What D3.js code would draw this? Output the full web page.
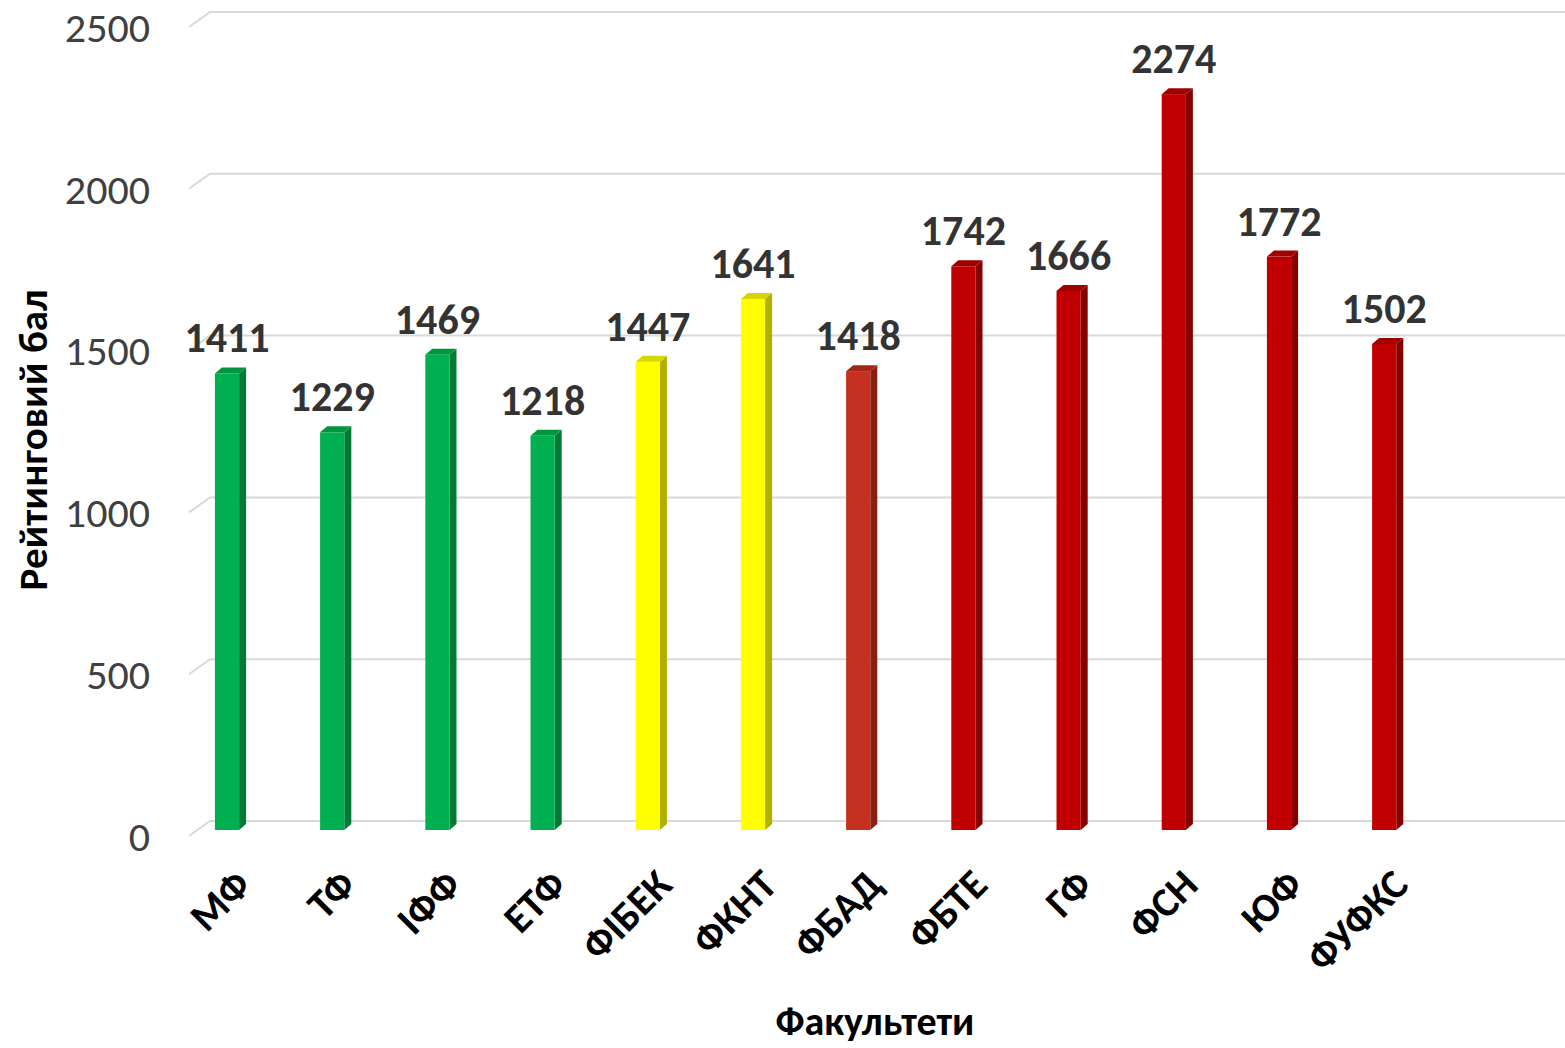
<!DOCTYPE html>
<html><head><meta charset="utf-8">
<script src="https://cdn.jsdelivr.net/npm/d3@7"></script>
<style>
html,body{margin:0;padding:0;background:#fff;}
svg{display:block;font-family:Carlito, Calibri, Lato, sans-serif;}
</style></head>
<body>
<svg id="c" width="1565" height="1048"></svg>
<script>
const categories = ["МФ","ТФ","ІФФ","ЕТФ","ФІБЕК","ФКНТ","ФБАД","ФБТЕ","ГФ","ФСН","ЮФ","ФУФКС"];
const values = [1411,1229,1469,1218,1447,1641,1418,1742,1666,2274,1772,1502];
const colorGroups = ["green","green","green","green","yellow","yellow","brick","red","red","red","red","red"];
const yTicks = [0,500,1000,1500,2000,2500];
const yTitle = "Рейтинговий бал";
const xTitle = "Факультети";

const palette = {
  green: {front:"#00b050", top:"#00963f", side:"#007a35"},
  yellow:{front:"#ffff00", top:"#d6d600", side:"#b0b000"},
  brick: {front:"#c5301f", top:"#a32617", side:"#8a1f14"},
  red:   {front:"#c00000", top:"#a00000", side:"#860000"}
};

const svg = d3.select("#c");
const y = d3.scaleLinear().domain([0,2500]).range([821,12]);
const x = d3.scaleBand().domain(categories).range([174.4,1436.8]).paddingInner(0.77).paddingOuter(0.385);

const floorDx = -21, floorDy = 15;
const barDy = 9;
const depthX = 7, depthY = 6;

const g = svg.append("g");
yTicks.forEach(t => {
  const yb = y(t);
  g.append("path")
    .attr("d", `M${210+floorDx},${yb+floorDy} L210,${yb} L1565,${yb}`)
    .attr("fill","none").attr("stroke","#d9d9d9").attr("stroke-width",2);
  svg.append("text").attr("x",150).attr("y",yb+floorDy).attr("dy","0.35em")
    .attr("text-anchor","end").attr("font-size",42).attr("fill","#404040").text(t);
});

categories.forEach((c,i) => {
  const v = values[i];
  const p = palette[colorGroups[i]];
  const x0 = x(c), x1 = x0 + x.bandwidth();
  const yb = y(0) + barDy, yt = y(v) + barDy;
  svg.append("path").attr("d",`M${x1},${yt} L${x1+depthX},${yt-depthY} L${x1+depthX},${yb-depthY} L${x1},${yb} Z`).attr("fill",p.side);
  svg.append("path").attr("d",`M${x0},${yt} L${x0+depthX},${yt-depthY} L${x1+depthX},${yt-depthY} L${x1},${yt} Z`).attr("fill",p.top);
  svg.append("rect").attr("x",x0).attr("y",yt).attr("width",x1-x0).attr("height",yb-yt).attr("fill",p.front);
  svg.append("text").attr("x",(x0+x1)/2).attr("y",yt-21).attr("text-anchor","middle")
    .attr("font-size",42).attr("font-weight","bold").attr("fill","#333333").text(v);
  const lx = (x0+x1)/2 + 16, ly = 877;
  svg.append("text").attr("transform",`translate(${lx},${ly}) rotate(-45)`)
    .attr("text-anchor","end").attr("dy","0.35em")
    .attr("font-size",41).attr("font-weight","bold").attr("fill","#000").text(c);
});

svg.append("text").attr("transform","translate(33,440) rotate(-90)").attr("text-anchor","middle")
  .attr("dy","0.35em").attr("font-size",41).attr("font-weight","bold").attr("fill","#000").text(yTitle);
svg.append("text").attr("x",875).attr("y",1021).attr("text-anchor","middle").attr("dy","0.35em")
  .attr("font-size",40).attr("font-weight","bold").attr("fill","#000").text(xTitle);
</script>
</body></html>
